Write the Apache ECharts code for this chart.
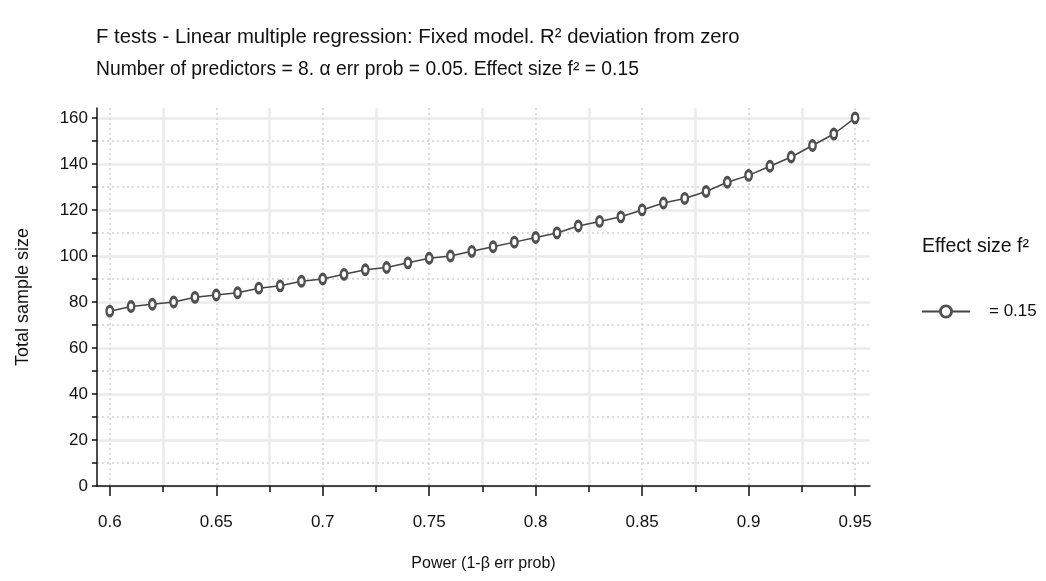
<!DOCTYPE html>
<html>
<head>
<meta charset="utf-8">
<script src="https://cdn.jsdelivr.net/npm/echarts@6/dist/echarts.min.js"></script>
<style>html,body{margin:0;padding:0;background:#fff}#c{width:1046px;height:581px}</style>
</head>
<body>
<div id="c"></div>
<script>
const powerValues = [0.60,0.61,0.62,0.63,0.64,0.65,0.66,0.67,0.68,0.69,0.70,0.71,0.72,0.73,0.74,0.75,0.76,0.77,0.78,0.79,0.80,0.81,0.82,0.83,0.84,0.85,0.86,0.87,0.88,0.89,0.90,0.91,0.92,0.93,0.94,0.95];
const sampleSizes = [76,78,79,80,82,83,84,86,87,89,90,92,94,95,97,99,100,102,104,106,108,110,113,115,117,120,123,125,128,132,135,139,143,148,153,160];
const xMajorTicks = [0.6,0.65,0.7,0.75,0.8,0.85,0.9,0.95];
const xMinorTicks = [0.625,0.675,0.725,0.775,0.825,0.875,0.925];
const yMajorTicks = [0,20,40,60,80,100,120,140,160];
const yMinorTicks = [10,30,50,70,90,110,130,150];
const seriesName = '= 0.15';

const FONT = '"Liberation Sans Narrow", "Arial Narrow", "Liberation Sans", sans-serif';
const gridSolid = {color:'#ebebeb', width:2.5, type:'solid'};
const gridDot = {color:'#dcdcdc', width:2, type:[2,3]};

const chart = echarts.init(document.getElementById('c'), null, {renderer:'canvas'});
chart.setOption({
  animation:false,
  backgroundColor:'#fff',
  textStyle:{fontFamily:FONT},
  title:[
    {text:'F tests - Linear multiple regression: Fixed model. R² deviation from zero', left:91, top:22,
     textStyle:{fontFamily:FONT, fontSize:20.3, fontWeight:'normal', color:'#111'}},
    {text:'Number of predictors = 8. α err prob = 0.05. Effect size f² = 0.15', left:91, top:55,
     textStyle:{fontFamily:FONT, fontSize:19.3, fontWeight:'normal', color:'#111'}},
    {text:'Effect size f²', left:917, top:232,
     textStyle:{fontFamily:FONT, fontSize:19.5, fontWeight:'normal', color:'#111'}}
  ],
  legend:{
    left:916, top:298, itemWidth:48, itemHeight:14,
    itemStyle:{color:'#ffffff', borderColor:'#505050', borderWidth:2.8},
    textStyle:{fontFamily:FONT, fontSize:17, color:'#111', padding:[0,0,0,14]},
    data:[seriesName]
  },
  grid:{left:97, right:176, top:108, bottom:95, containLabel:false},
  xAxis:[
    {type:'value', min:0.594, max:0.957, position:'bottom',
     name:'Power (1-β err prob)', nameLocation:'middle', nameGap:70,
     nameTextStyle:{fontFamily:FONT, fontSize:16, color:'#111'},
     axisLine:{show:true, lineStyle:{color:'#111', width:1.5}},
     axisTick:{show:true, customValues:xMajorTicks, length:10, lineStyle:{color:'#111', width:1.5}},
     axisLabel:{show:true, customValues:xMajorTicks, margin:28, fontFamily:FONT, fontSize:17, color:'#111'},
     splitLine:{show:true, lineStyle:gridDot}},
    {type:'value', min:0.594, max:0.957, position:'bottom',
     axisLine:{show:false},
     axisTick:{show:true, customValues:xMinorTicks, length:6, lineStyle:{color:'#111', width:1.5}},
     axisLabel:{show:false},
     splitLine:{show:true, lineStyle:gridSolid}}
  ],
  yAxis:[
    {type:'value', min:0, max:164.3, position:'left',
     name:'Total sample size', nameLocation:'middle', nameGap:65,
     nameTextStyle:{fontFamily:'"Liberation Sans", sans-serif', fontSize:18, color:'#111'},
     axisLine:{show:true, lineStyle:{color:'#111', width:1.5}},
     axisTick:{show:true, customValues:yMajorTicks, length:5, lineStyle:{color:'#111', width:1.5}},
     axisLabel:{show:true, customValues:yMajorTicks, margin:9, fontFamily:FONT, fontSize:17, color:'#111'},
     splitLine:{show:true, lineStyle:gridSolid}},
    {type:'value', min:0, max:164.3, position:'left',
     axisLine:{show:false},
     axisTick:{show:true, customValues:yMinorTicks, length:5, lineStyle:{color:'#111', width:1.5}},
     axisLabel:{show:false},
     splitLine:{show:true, lineStyle:gridDot}}
  ],
  series:[{
    name:seriesName, type:'line', xAxisIndex:0, yAxisIndex:0,
    data:powerValues.map((p,i)=>[p, sampleSizes[i]]),
    symbol:'circle', symbolSize:[6.5,9.5], showAllSymbol:true,
    lineStyle:{color:'#444', width:1.5},
    itemStyle:{color:'#ffffff', borderColor:'#505050', borderWidth:2.8},
    z:5
  }]
});
</script>
</body>
</html>
